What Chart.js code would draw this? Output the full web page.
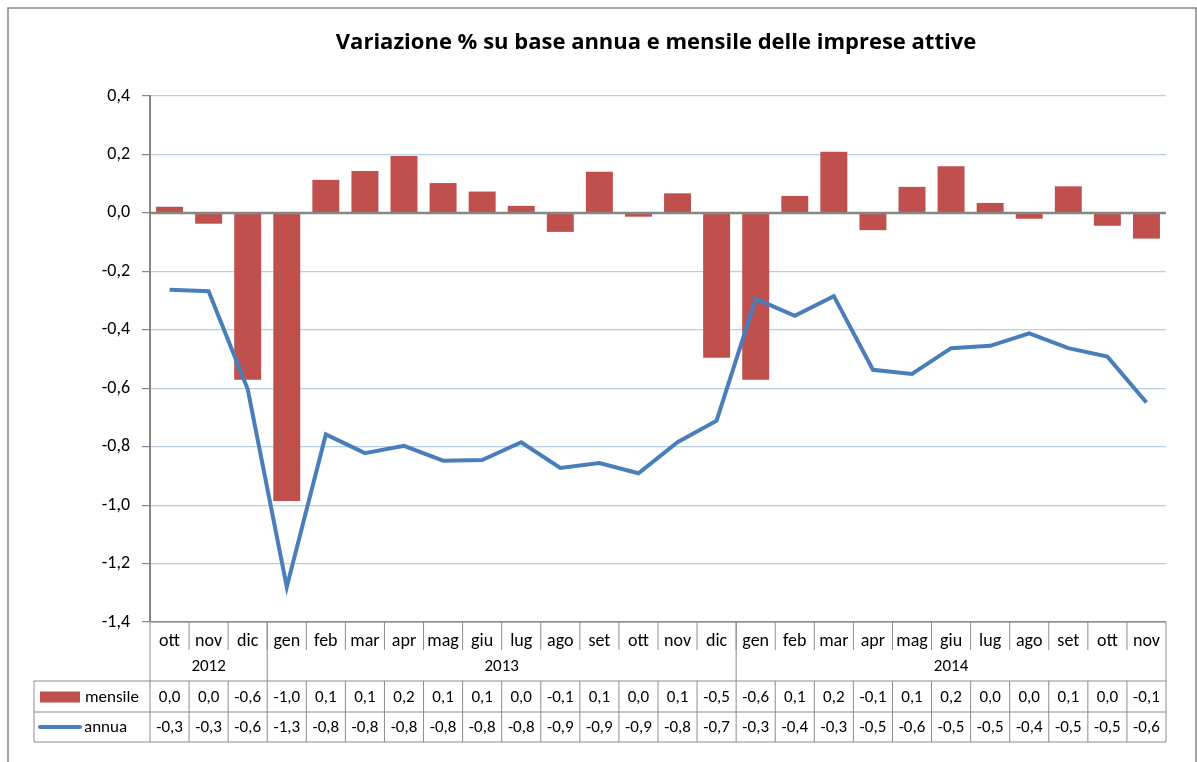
<!DOCTYPE html>
<html>
<head>
<meta charset="utf-8">
<script src="https://cdn.jsdelivr.net/npm/chart.js@4.4.1/dist/chart.umd.min.js"></script>
<style>
  html, body { margin: 0; padding: 0; background: #fff; }
</style>
</head>
<body>
<canvas id="chart" width="1197" height="762"></canvas>
<script>
// categorie (mesi) e gruppi per anno
const months = ['ott', 'nov', 'dic', 'gen', 'feb', 'mar', 'apr', 'mag', 'giu', 'lug', 'ago', 'set',
  'ott', 'nov', 'dic', 'gen', 'feb', 'mar', 'apr', 'mag', 'giu', 'lug', 'ago', 'set', 'ott', 'nov'];
const years = ['2012', '2013', '2014'];
const yearSpans = [3, 12, 11];

// serie
const mensile = [0.021, -0.037, -0.571, -0.986, 0.113, 0.143, 0.195, 0.102, 0.073, 0.024, -0.065, 0.141,
  -0.013, 0.067, -0.496, -0.571, 0.058, 0.209, -0.059, 0.089, 0.160, 0.034, -0.020, 0.091, -0.044, -0.088];
const annua = [-0.263, -0.268, -0.603, -1.280, -0.758, -0.822, -0.797, -0.848, -0.846, -0.785, -0.873, -0.856,
  -0.891, -0.785, -0.711, -0.294, -0.352, -0.285, -0.537, -0.551, -0.463, -0.455, -0.412, -0.463, -0.492, -0.649];

// asse y
const yMin = -1.4, yMax = 0.4, yStep = 0.2;

const title = 'Variazione % su base annua e mensile delle imprese attive';

const FONT = 'Carlito, Lato, sans-serif';
const RED = '#C0504D', BLUE = '#4A7EBB', GRID = '#B9CDE5', AXIS = '#868686', LINE = '#8C8C8C';

const fmt = v => {
  let r = Math.round(v * 10) / 10;
  if (r === 0) r = 0;
  return r.toFixed(1).replace('.', ',');
};

const tablePlugin = {
  id: 'tabella',
  beforeDraw(chart) {
    const ctx = chart.ctx;
    ctx.save();
    ctx.strokeStyle = AXIS;
    ctx.lineWidth = 1.5;
    ctx.strokeRect(8, 8, 1188, 800);
    ctx.restore();
  },
  afterDatasetsDraw(chart) {
    const { ctx, chartArea: a, scales: { y } } = chart;
    const y0 = y.getPixelForValue(0);
    ctx.save();
    ctx.strokeStyle = AXIS;
    ctx.lineWidth = 2.5;
    ctx.beginPath();
    ctx.moveTo(a.left, y0);
    ctx.lineTo(a.right, y0);
    ctx.stroke();
    ctx.restore();
  },
  afterDraw(chart) {
    const { ctx, chartArea: a, scales: { x } } = chart;
    const n = months.length;
    const cw = (a.right - a.left) / n;
    const edge = i => a.left + i * cw;
    const top = a.bottom;
    const yearTop = top + 28;
    const mTop = top + 59;
    const aTop = mTop + 31;
    const bottom = aTop + 30;
    const legLeft = 34;

    const line = (x1, y1, x2, y2) => {
      ctx.beginPath();
      ctx.moveTo(x1, y1);
      ctx.lineTo(x2, y2);
      ctx.stroke();
    };

    ctx.save();
    // titolo centrato sull'area del grafico
    ctx.fillStyle = '#000';
    ctx.font = 'bold 22px "Open Sans", ' + FONT;
    ctx.textAlign = 'center';
    ctx.textBaseline = 'alphabetic';
    ctx.fillText(title, (a.left + a.right) / 2 - 2, 49);

    ctx.strokeStyle = LINE;
    ctx.lineWidth = 1;
    line(a.left, top, a.right, top);
    line(legLeft, mTop, a.right, mTop);
    line(legLeft, aTop, a.right, aTop);
    line(legLeft, bottom, a.right, bottom);
    line(legLeft, mTop, legLeft, bottom);
    line(a.left, top, a.left, bottom);
    line(a.right, top, a.right, bottom);
    for (let i = 1; i < n; i++) {
      line(edge(i), top, edge(i), yearTop);
      line(edge(i), mTop, edge(i), bottom);
    }
    let k = 0;
    ctx.font = '17px ' + FONT;
    ctx.textBaseline = 'middle';
    years.forEach((lab, j) => {
      const start = k;
      k += yearSpans[j];
      if (k < n) line(edge(k), top, edge(k), mTop);
      ctx.fillText(lab, (edge(start) + edge(k)) / 2, top + 45);
    });

    const cyM = (mTop + aTop) / 2 + 1, cyA = (aTop + bottom) / 2 + 1;
    [[mensile, cyM], [annua, cyA]].forEach(([vals, cy]) => {
      vals.forEach((v, i) => ctx.fillText(fmt(v), x.getPixelForValue(i), cy));
    });

    // legenda nella tabella
    const ds = chart.data.datasets;
    ctx.fillStyle = ds[1].backgroundColor;
    ctx.fillRect(40, cyM - 6, 40, 11);
    ctx.strokeStyle = ds[0].borderColor;
    ctx.lineWidth = 4;
    ctx.lineCap = 'round';
    line(40, cyA - 1, 80, cyA - 1);
    ctx.fillStyle = '#000';
    ctx.textAlign = 'left';
    ctx.fillText(ds[1].label, 85, cyM);
    ctx.fillText(ds[0].label, 84, cyA);
    ctx.restore();
  }
};

new Chart(document.getElementById('chart'), {
  data: {
    labels: months,
    datasets: [
      {
        type: 'line',
        label: 'annua',
        data: annua,
        borderColor: BLUE,
        backgroundColor: BLUE,
        borderWidth: 4,
        pointRadius: 0,
        tension: 0,
        order: 1
      },
      {
        type: 'bar',
        label: 'mensile',
        data: mensile,
        backgroundColor: RED,
        borderWidth: 0,
        barPercentage: 0.69,
        categoryPercentage: 1,
        order: 2
      }
    ]
  },
  plugins: [tablePlugin],
  options: {
    responsive: false,
    animation: false,
    layout: { padding: { left: 0, right: 31, top: 96, bottom: 0 } },
    plugins: {
      legend: { display: false },
      tooltip: { enabled: false },
      title: { display: false }
    },
    scales: {
      x: {
        grid: { display: false },
        border: { display: false },
        ticks: {
          color: '#000',
          font: { family: FONT, size: 18 },
          maxRotation: 0,
          autoSkip: false,
          padding: 1
        },
        afterFit(scale) { scale.height = 140; }
      },
      y: {
        min: yMin,
        max: yMax,
        border: { color: AXIS, width: 2 },
        grid: {
          color: c => Math.abs(c.tick.value - yMin) < 1e-6 ? LINE : GRID,
          tickColor: AXIS,
          tickLength: 8,
          lineWidth: 1.2
        },
        ticks: {
          stepSize: yStep,
          color: '#000',
          font: { family: FONT, size: 18 },
          padding: 12,
          callback: v => fmt(v)
        },
        afterFit(scale) { scale.width = 150; }
      }
    }
  }
});
</script>
</body>
</html>
